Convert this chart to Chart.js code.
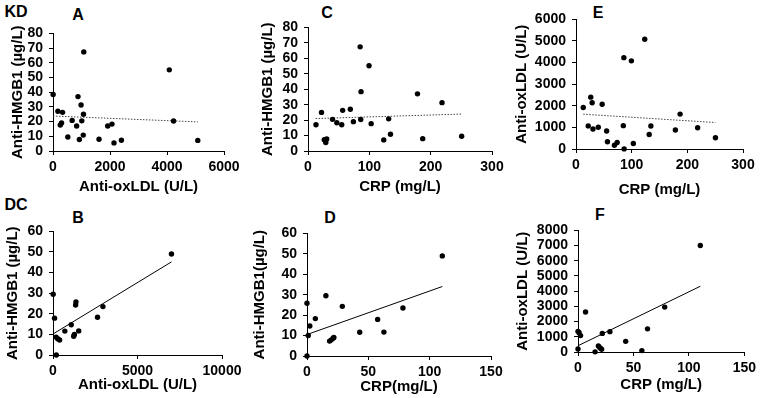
<!DOCTYPE html>
<html><head><meta charset="utf-8">
<script src="https://cdn.jsdelivr.net/npm/chart.js@4"></script>
<style>
html,body{margin:0;padding:0;background:#fff;}
body{width:760px;height:398px;position:relative;overflow:hidden;font-family:'Liberation Sans',Arial,sans-serif;}
.panel{position:absolute;}
.lbl{position:absolute;font-weight:bold;font-size:16px;transform:translate(-50%,-50%);line-height:1;color:#000;white-space:nowrap;}
</style></head><body>
<div class="lbl" style="left:16px;top:12px">KD</div>
<div class="lbl" style="left:16px;top:205px">DC</div>
<div class="lbl" style="left:78px;top:15px">A</div>
<div class="lbl" style="left:327px;top:13px">C</div>
<div class="lbl" style="left:598px;top:13px">E</div>
<div class="lbl" style="left:78px;top:218px">B</div>
<div class="lbl" style="left:330px;top:218px">D</div>
<div class="lbl" style="left:600px;top:215px">F</div>
<script>
// ---- KD patients (n = 23) ----
const kdCRP   = [13, 22, 26.5, 29, 30.5, 40, 47, 55, 56.5, 69, 74, 85, 86.5, 86, 99.5, 103, 123.5, 131.5, 134.5, 178.5, 187, 218.5, 250.5];
const kdHMGB1 = [17, 25, 7.3, 5.5, 7.8, 20.5, 18.3, 17, 26.3, 27, 19, 67.4, 38.4, 20.4, 55.2, 17.7, 7.2, 20.8, 10.8, 37, 8, 31.3, 9.5];
const kdOxLDL = [1920, 1070, 2400, 2140, 925, 1010, 2070, 830, 335, 172, 300, 1080, 5, 4230, 4080, 255, 5080, 672, 1062, 877, 1615, 985, 520];
// ---- DC patients (n = 16) ----
const dcCRP   = [15.4, 6.8, 110.3, 78.2, 57.6, 62.7, 43, 28.8, 0, 2.3, 0, 1, 18.4, 19.8, 21.3, 21.9];
const dcHMGB1 = [29.5, 18.3, 49, 23.5, 17.9, 11.7, 11.6, 24.3, 25.8, 14.7, 0, 10, 7.3, 7.9, 8.7, 9.1];
const dcOxLDL = [10, 2635, 7010, 2955, 92, 1522, 700, 1338, 1359, 1080, 195, 1265, 391, 278, 185, 1225];
// ---- trend lines (endpoints) ----
const trendAx = [0, 5080],     trendAy = [23.8, 19.8];
const trendCx = [12.4, 250.5], trendCy = [21, 23.9];
const trendEx = [13, 250.5],   trendEy = [1612, 1225];
const trendBx = [0, 7010],     trendBy = [10.2, 45.2];
const trendDx = [0, 110.3],    trendDy = [10.5, 34];
const trendFx = [0, 110.3],    trendFy = [411, 4324];
// ---- axis ranges / ticks ----
const axA = {x:[0,6000,2000], y:[0,80,10]};
const axC = {x:[0,300,100],   y:[0,80,10]};
const axE = {x:[0,300,100],   y:[0,6000,1000]};
const axB = {x:[0,10000,5000],y:[0,60,10]};
const axD = {x:[0,150,50],    y:[0,60,10]};
const axF = {x:[0,150,50],    y:[0,8000,1000]};

const FONT = "'Liberation Sans', Arial, sans-serif";
function pts(xs, ys){ return xs.map((x,i)=>({x:x, y:ys[i]})); }
const plain = (v) => String(v);

function panel(r, xs, ys, tx, ty, ax, xTitle, yTitle, dotted){
  const left = r.yTitleX - 9, top = r.T - r.padTop;
  const right = r.R + r.padRight, bottom = r.xTitleY + 9;
  const div = document.createElement('div');
  div.className = 'panel';
  div.style.left = left+'px'; div.style.top = top+'px';
  div.style.width = (right-left)+'px'; div.style.height = (bottom-top)+'px';
  const cv = document.createElement('canvas');
  div.appendChild(cv); document.body.appendChild(div);
  const yW = r.L - left, xH = bottom - r.B;
  const tickFont = {family: FONT, size: 14, weight: 'bold'};
  const titleFont = {family: FONT, size: 15, weight: 'bold'};
  const grid = {display:true, drawOnChartArea:false, drawTicks:true, tickLength:4, color:'#000', tickColor:'#000', lineWidth:1};
  new Chart(cv, {
    type: 'scatter',
    data: {datasets: [
      {data: pts(xs, ys), backgroundColor:'#000', borderColor:'#000', pointRadius:2.7, pointBorderWidth:0, pointHoverRadius:2.7, clip:false},
      {data: pts(tx, ty), showLine:true, borderColor: dotted ? '#444' : '#000', borderWidth:1, borderDash: dotted ? [1.5,1.5] : [], pointRadius:0, clip:false}
    ]},
    options: {
      responsive:true, maintainAspectRatio:false, animation:false,
      layout:{padding:{left:0, top:r.padTop, right:r.padRight, bottom:0}},
      plugins:{legend:{display:false}, tooltip:{enabled:false}, title:{display:false}},
      scales:{
        x:{type:'linear', position:'bottom', min:ax.x[0], max:ax.x[1],
           ticks:{stepSize:ax.x[2], font:tickFont, color:'#000', padding:4, maxRotation:0, autoSkip:false, callback:plain},
           grid:grid, border:{display:true, color:'#000', width:1},
           title:{display:true, text:xTitle, font:titleFont, color:'#000', padding:{top:0,bottom:0}},
           afterFit:(s)=>{ s.height = xH; }},
        y:{type:'linear', position:'left', min:ax.y[0], max:ax.y[1],
           ticks:{stepSize:ax.y[2], font:tickFont, color:'#000', padding:6, autoSkip:false, callback:plain},
           grid:grid, border:{display:true, color:'#000', width:1},
           title:{display:true, text:yTitle, font:titleFont, color:'#000', padding:{top:0,bottom:0}},
           afterFit:(s)=>{ s.width = yW; }}
      }
    }
  });
}

panel({L:53, R:224, T:31, B:151, yTitleX:18, xTitleY:187, padTop:12, padRight:24},
      kdOxLDL, kdHMGB1, trendAx, trendAy, axA, 'Anti-oxLDL (U/L)', 'Anti-HMGB1 (\u00b5g/L)', true);
panel({L:308, R:492, T:25, B:151, yTitleX:268, xTitleY:187, padTop:12, padRight:22},
      kdCRP, kdHMGB1, trendCx, trendCy, axC, 'CRP (mg/L)', 'Anti-HMGB1 (\u00b5g/L)', true);
panel({L:576, R:743, T:17, B:149, yTitleX:522, xTitleY:190, padTop:12, padRight:16},
      kdCRP, kdOxLDL, trendEx, trendEy, axE, 'CRP (mg/L)', 'Anti-oxLDL (U/L)', true);
panel({L:53, R:222, T:229, B:355, yTitleX:13, xTitleY:385, padTop:12, padRight:24},
      dcOxLDL, dcHMGB1, trendBx, trendBy, axB, 'Anti-oxLDL (U/L)', 'Anti-HMGB1 (\u00b5g/L)', false);
panel({L:307, R:491, T:231, B:356, yTitleX:260, xTitleY:387, padTop:12, padRight:22},
      dcCRP, dcHMGB1, trendDx, trendDy, axD, 'CRP(mg/L)', 'Anti-HMGB1(\u00b5g/L)', false);
panel({L:578, R:747, T:228, B:352, yTitleX:523, xTitleY:385, padTop:12, padRight:13},
      dcCRP, dcOxLDL, trendFx, trendFy, axF, 'CRP (mg/L)', 'Anti-oxLDL (U/L)', false);
</script>
</body></html>
